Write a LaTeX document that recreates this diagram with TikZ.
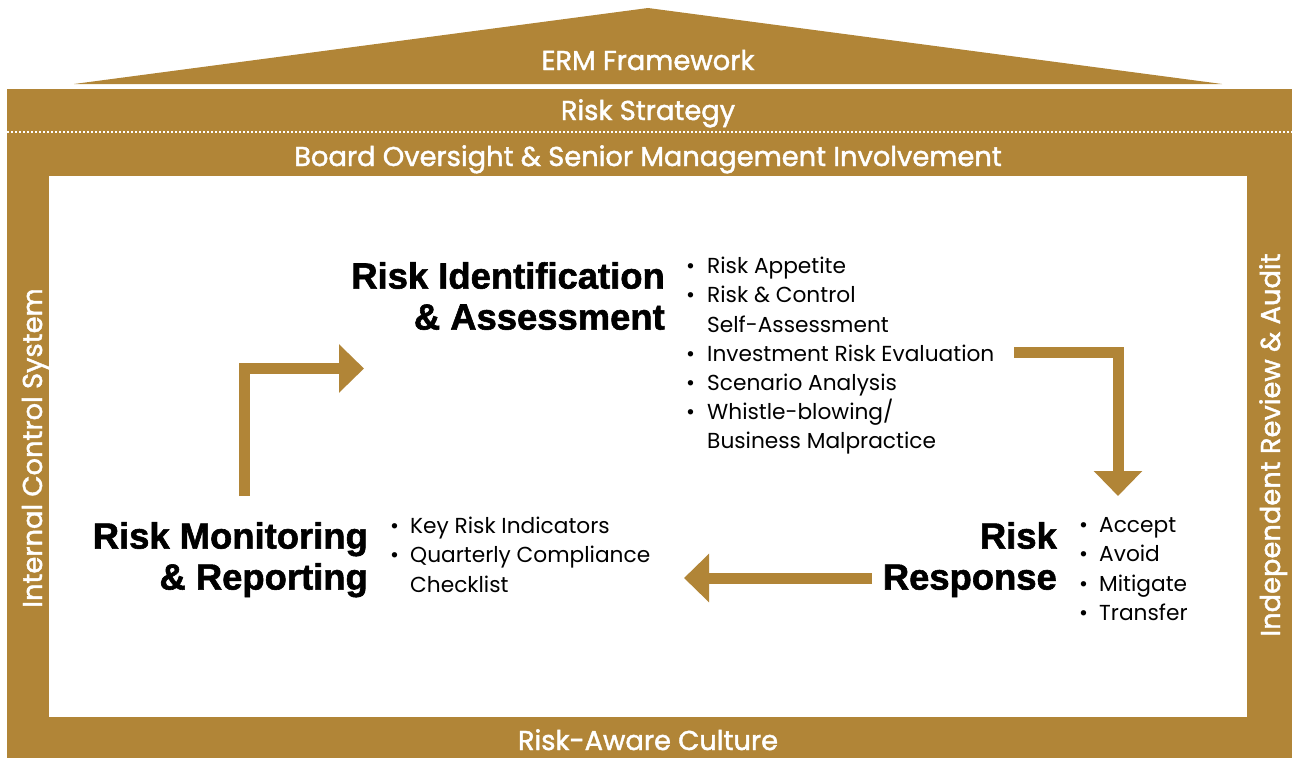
\documentclass[tikz,border=0pt]{standalone}
\usepackage{fontspec}
\setmainfont{Poppins}
\newfontfamily\bannerfont{Poppins}[FakeBold=1.6]
\newfontfamily\headfont{Liberation Sans Bold}[FakeBold=1.6]
\usetikzlibrary{arrows.meta}
\definecolor{gold}{RGB}{177,133,55}
\begin{document}
\begin{tikzpicture}[x=1pt,y=-1pt,
  banner/.style={text=white,font=\bannerfont\fontsize{27.3}{30}\selectfont,inner sep=0pt,anchor=base},
  heading/.style={font=\headfont\fontsize{36.4}{41}\selectfont,align=right,inner sep=0pt,anchor=north east},
  blist/.style={font=\fontsize{21.7}{29.2}\selectfont,align=left,inner sep=0pt,anchor=north west},
  flow/.style={draw=gold,line width=11pt,line join=miter,-{Triangle[width=47pt,length=25pt]}}]
\useasboundingbox (0,0) rectangle (1292,758);
% roof and frame
\fill[gold] (74,84) -- (648,8) -- (1222,84) -- cycle;
\fill[gold] (7,89) rectangle (1292,758);
\fill[white] (49,176) rectangle (1247,717);
\draw[white,line width=2.2pt,dash pattern=on 1.5pt off 2.5pt] (7,132) -- (1292,132);
% banner texts
\node[banner] (erm) at (648,70) {ERM Framework};
\node[banner] (strategy) at (648,120) {Risk Strategy};
\node[banner] (board) at (648,166) {Board Oversight \& Senior Management Involvement};
\node[banner] (culture) at (648,750) {Risk-Aware Culture};
\node[banner,rotate=90] (ics) at (42,448) {Internal Control System};
\node[banner,rotate=90] (ira) at (1280,445) {Independent Review \& Audit};
% headings
\node[heading] (ident) at (665,262) {Risk Identification\\\& Assessment};
\node[heading] (resp) at (1057,522) {Risk\\Response};
\node[heading] (mon) at (368,522) {Risk Monitoring\\\& Reporting};
% bullet lists
\node[blist] (identlist) at (686,257) {\makebox[21pt][l]{•}Risk Appetite\\
\makebox[21pt][l]{•}Risk \& Control\\
\hspace*{21pt}Self-Assessment\\
\makebox[21pt][l]{•}Investment Risk Evaluation\\
\makebox[21pt][l]{•}Scenario Analysis\\
\makebox[21pt][l]{•}Whistle-blowing/\\
\hspace*{21pt}Business Malpractice};
\node[blist] (resplist) at (1079,517.5) {\makebox[20pt][l]{•}Accept\\
\makebox[20pt][l]{•}Avoid\\
\makebox[20pt][l]{•}Mitigate\\
\makebox[20pt][l]{•}Transfer};
\node[blist] (monlist) at (390,517) {\makebox[20pt][l]{•}Key Risk Indicators\\
\makebox[20pt][l]{•}Quarterly Compliance\\
\hspace*{20pt}Checklist};
% flow arrows
\coordinate (monout) at (244.5,496);
\coordinate (identin) at (364,368.5);
\coordinate (identout) at (1014,352);
\coordinate (respin) at (1118,496);
\coordinate (respout) at (872,578);
\coordinate (monin) at (684,578);
\draw[flow] (monout) |- (identin);
\draw[flow] (identout) -| (respin);
\draw[flow] (respout) -- (monin);
\end{tikzpicture}
\end{document}
